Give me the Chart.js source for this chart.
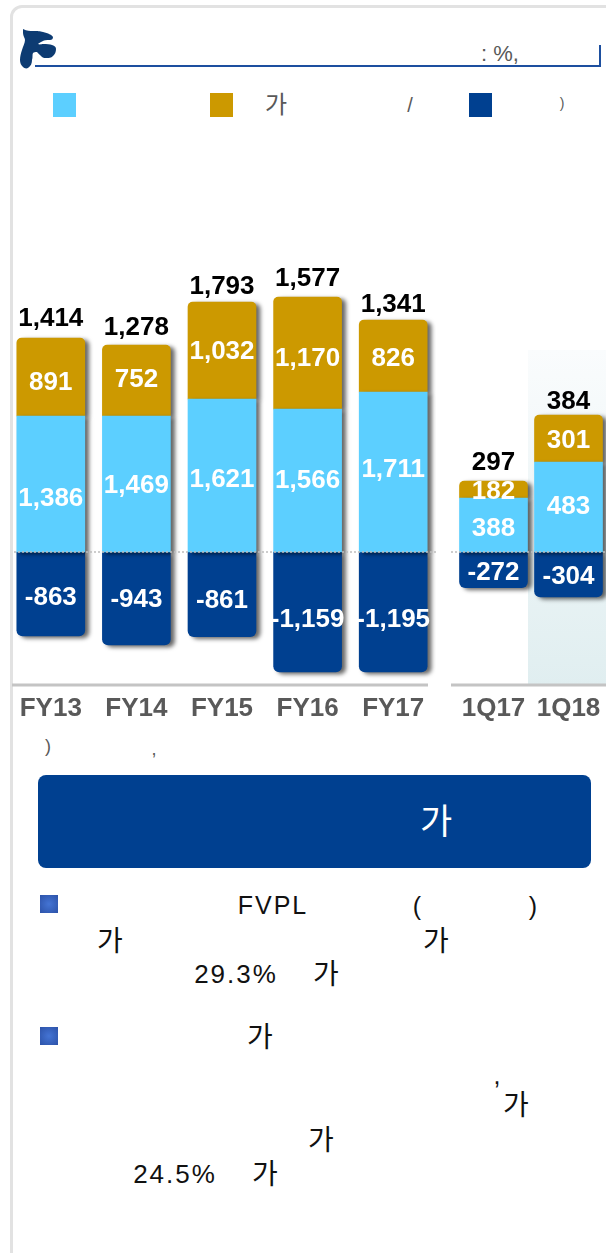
<!DOCTYPE html>
<html lang="ko">
<head>
<meta charset="utf-8">
<script src="https://cdn.jsdelivr.net/npm/chart.js@4/dist/chart.umd.min.js"></script>
<style>
  html, body { margin: 0; padding: 0; background: #fff; }
  body { position: relative; width: 606px; height: 1253px; overflow: hidden;
         font-family: "Liberation Sans", "Noto Sans CJK KR", sans-serif; }
  #card { position: absolute; left: 10px; top: 5px; width: 700px; height: 1400px;
          border: 3px solid #e2e2e2; border-radius: 12px; }
  #headerLine { position: absolute; left: 35px; top: 65px; width: 566px; height: 2px; background: #1d4f9f; }
  #headerTick { position: absolute; left: 599px; top: 45px; width: 2px; height: 22px; background: #1d4f9f; }
  #highlight { position: absolute; left: 528px; top: 350px; width: 78px; height: 336px;
               background: linear-gradient(#fafcfd, #e0eef0); }
  .swatch { position: absolute; width: 23px; height: 24px; }
  canvas { position: absolute; }
  #banner { position: absolute; left: 38px; top: 775px; width: 553px; height: 93px;
            background: #004090; border-radius: 8px; }
  .bullet { position: absolute; left: 40px; width: 18px; height: 18px;
            background: radial-gradient(circle, #4474d4, #2c52a8); }
  .t { position: absolute; white-space: pre; transform: translate(-50%, -50%); line-height: 1; }
  .grey { color: #595959; }
  .body { color: #111; font-size: 25px; letter-spacing: 2px; }
  .num { font-size: 26px; }
  .ga { color: #111; font-size: 28px; }
</style>
</head>
<body>
<div id="card"></div>
<svg style="position:absolute;left:0;top:0" width="70" height="80">
  <path fill="#0d3b72" d="M23 29C27 31 30 31 33 31C38 31 40 31 43 32C48 33 52 35 53 37C53 39 52 40 50 40C46 40 44 40 43 41C41 42 39 43 38 44C40 45 42 44 43 44C47 44 50 44 52 45C55 46 56 47 56 49C56 52 55 54 53 56C51 58 49 58 47 58C45 58 43 58 42 57C40 55 38 53 37 52C35 52 34 52 33 53C32 55 33 57 32 60C32 63 31 66 28 68C26 69 24 68 23 67C21 65 20 63 20 60C20 56 21 53 22 50C23 46 25 43 25 40C25 38 23 36 23 33Z"/>
</svg>
<div id="headerLine"></div>
<div id="headerTick"></div>
<div class="t grey" style="left:500px;top:54px;font-size:22px">: %,</div>

<div class="swatch" style="left:53px;top:93px;background:#5ccfff"></div>
<div class="swatch" style="left:210px;top:93px;background:#cc9900"></div>
<div class="swatch" style="left:469px;top:93px;background:#004090"></div>
<div class="t grey" style="left:276px;top:105px;font-size:24px">가</div>
<div class="t grey" style="left:410px;top:105px;font-size:20px">/</div>
<div class="t grey" style="left:562px;top:103px;font-size:14px">)</div>

<div id="highlight"></div>
<canvas id="fyChart" width="428" height="485" style="left:8px;top:245px"></canvas>
<canvas id="quarterChart" width="155" height="485" style="left:451px;top:245px"></canvas>

<div class="t grey" style="left:48px;top:746px;font-size:18px">)</div>
<div class="t grey" style="left:154px;top:749px;font-size:18px">,</div>

<div id="banner"></div>
<div class="t" style="left:436px;top:821px;font-size:35px;color:#fff">가</div>

<div class="bullet" style="top:895px"></div>
<div class="t body" style="left:273px;top:905px">FVPL</div>
<div class="t body" style="left:418px;top:906px">(</div>
<div class="t body" style="left:534px;top:906px">)</div>
<div class="t ga" style="left:110px;top:942px">가</div>
<div class="t ga" style="left:436px;top:942px">가</div>
<div class="t body num" style="left:236px;top:974px">29.3%</div>
<div class="t ga" style="left:326px;top:975px">가</div>

<div class="bullet" style="top:1027px"></div>
<div class="t ga" style="left:260px;top:1038px">가</div>
<div class="t body" style="left:498px;top:1075px">,</div>
<div class="t ga" style="left:516px;top:1106px">가</div>
<div class="t ga" style="left:321px;top:1141px">가</div>
<div class="t body num" style="left:175px;top:1174px">24.5%</div>
<div class="t ga" style="left:265px;top:1175px">가</div>

<script>
const categories = ["FY13", "FY14", "FY15", "FY16", "FY17", "1Q17", "1Q18"];

// numbers printed on the chart
const blueLabels = [1386, 1469, 1621, 1566, 1711, 388, 483];
const goldLabels = [891, 752, 1032, 1170, 826, 182, 301];
const navyLabels = [-863, -943, -861, -1159, -1195, -272, -304];
const totalLabels = [1414, 1278, 1793, 1577, 1341, 297, 384];

// the source bars are not to scale with their labels, so lengths are read off the picture
const blueHeights = [1360, 1360, 1530, 1430, 1600, 540, 900];
const goldHeights = [780, 710, 970, 1120, 720, 170, 470];
const navyHeights = [-840, -930, -847, -1200, -1200, -357, -450];

// labels sit by hand in the source, not dead centre (px, + is down)
const blueNudge = [13, 0, 2, -2, -4, 2, -2];
const goldNudge = [4, -3, -1, 4, 1, 0, 0];
const navyNudge = [2, -1, 4, 6, 6, 1, 0];
const totalGap = [21, 19, 17, 20, 17, 20, 15];

const fmt = n => n.toLocaleString("en-US");

const barShadow = {
  id: "barShadow",
  beforeDatasetDraw(chart) {
    const ctx = chart.ctx;
    ctx.save();
    ctx.shadowColor = "rgba(0,0,0,0.6)";
    ctx.shadowBlur = 4;
    ctx.shadowOffsetX = 4;
    ctx.shadowOffsetY = 2;
  },
  afterDatasetDraw(chart) {
    chart.ctx.restore();
  }
};

const rulesAndLabels = {
  id: "rulesAndLabels",
  afterDatasetsDraw(chart, args, opts) {
    const ctx = chart.ctx;
    const y = chart.scales.y;
    ctx.save();

    ctx.strokeStyle = "#bdbdbd";
    ctx.lineWidth = 1.5;
    ctx.setLineDash([2, 2]);
    ctx.beginPath();
    ctx.moveTo(opts.zeroFrom, y.getPixelForValue(0));
    ctx.lineTo(opts.zeroTo, y.getPixelForValue(0));
    ctx.stroke();

    ctx.setLineDash([]);
    ctx.strokeStyle = "#c4c4c4";
    ctx.lineWidth = 3;
    ctx.beginPath();
    ctx.moveTo(opts.axisFrom, y.getPixelForValue(-1330));
    ctx.lineTo(opts.axisTo, y.getPixelForValue(-1330));
    ctx.stroke();

    ctx.textAlign = "center";
    ctx.textBaseline = "middle";
    ctx.font = "bold 26px 'Liberation Sans', Arial, sans-serif";
    chart.data.datasets.forEach((ds, d) => {
      chart.getDatasetMeta(d).data.forEach((bar, i) => {
        const mid = (bar.y + bar.base) / 2;
        ctx.fillStyle = "#fff";
        ctx.fillText(fmt(ds.printed[i]), bar.x, mid + ds.nudge[i] + 2);
        if (ds.top) {
          ctx.fillStyle = "#000";
          ctx.fillText(fmt(opts.totals[i]), bar.x, bar.y - opts.gaps[i] + 2);
        }
      });
    });
    ctx.restore();
  }
};

function makeChart(id, from, to, padLeft, rules) {
  const part = arr => arr.slice(from, to);
  return new Chart(document.getElementById(id).getContext("2d"), {
    type: "bar",
    data: {
      labels: part(categories),
      datasets: [
        { data: part(blueHeights), backgroundColor: "#5ccfff",
          printed: part(blueLabels), nudge: part(blueNudge) },
        { data: part(goldHeights), backgroundColor: "#cc9900",
          borderRadius: { topLeft: 5, topRight: 5, bottomLeft: 0, bottomRight: 0 },
          printed: part(goldLabels), nudge: part(goldNudge), top: true },
        { data: part(navyHeights), backgroundColor: "#004090",
          borderRadius: { topLeft: 0, topRight: 0, bottomLeft: 6, bottomRight: 6 },
          printed: part(navyLabels), nudge: part(navyNudge) }
      ]
    },
    options: {
      responsive: false,
      animation: false,
      layout: { padding: { left: padLeft, right: 0, top: 0, bottom: 0 } },
      datasets: { bar: { barThickness: 68, clip: false, borderSkipped: false } },
      scales: {
        x: {
          stacked: true,
          grid: { display: false },
          border: { display: false },
          afterFit(scale) { scale.height = 40; },
          ticks: {
            color: "#595959",
            font: { family: "'Liberation Sans', Arial, sans-serif", weight: "bold", size: 26 },
            padding: -5,
            maxRotation: 0,
            autoSkip: false
          }
        },
        y: { stacked: true, display: false, min: -1380, max: 3070 }
      },
      plugins: {
        legend: { display: false },
        tooltip: { enabled: false },
        rulesAndLabels: Object.assign({ totals: part(totalLabels), gaps: part(totalGap) }, rules)
      }
    },
    plugins: [barShadow, rulesAndLabels]
  });
}

makeChart("fyChart", 0, 5, 0, { zeroFrom: 6, zeroTo: 428, axisFrom: 4, axisTo: 420 });
makeChart("quarterChart", 5, 7, 5, { zeroFrom: 0, zeroTo: 155, axisFrom: 0, axisTo: 155 });
</script>
</body>
</html>
